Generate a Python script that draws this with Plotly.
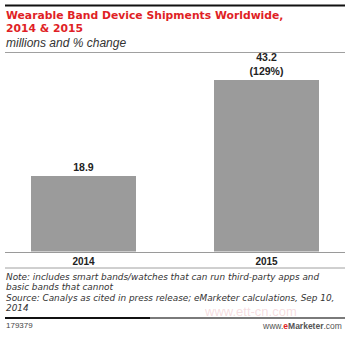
import plotly.graph_objects as go

W, H = 351, 338

years = ["2014", "2015"]
shipments = [18.9, 43.2]
pct_change = [None, 129]

title_lines = ["Wearable Band Device Shipments Worldwide,", "2014 & 2015"]
subtitle = "millions and % change"
note_lines = [
    "Note: includes smart bands/watches that can run third-party apps and",
    "basic bands that cannot",
    "Source: Canalys as cited in press release; eMarketer calculations, Sep 10,",
    "2014",
]
chart_id = "179379"

labels = []
for v, p in zip(shipments, pct_change):
    labels.append(f"{v}" if p is None else f"{v}<br>({p}%)")


def px(x):
    return x / W


def py(y):
    return 1 - y / H


fig = go.Figure()
fig.add_trace(go.Bar(
    x=years, y=shipments, width=0.574,
    marker=dict(color="#9b9b9b", line=dict(width=0)),
    text=labels, textposition="outside", cliponaxis=False,
    textfont=dict(family="Liberation Sans", size=10.5, color="#222", weight="bold"),
    hoverinfo="skip",
))

fig.update_layout(
    width=W, height=H, autosize=False,
    margin=dict(l=0, r=0, t=0, b=0),
    paper_bgcolor="white", plot_bgcolor="white",
    showlegend=False, bargap=0,
    font=dict(family="Liberation Sans"),
    xaxis=dict(
        domain=[px(5), px(345)], range=[-0.429, 1.429],
        showline=True, linecolor="#9a9a9a", linewidth=1,
        showgrid=False, zeroline=False, ticks="",
        tickfont=dict(family="Liberation Sans", size=10, color="#222", weight="bold"),
        fixedrange=True,
    ),
    yaxis=dict(
        domain=[py(251.5), py(60)], range=[0, 48.24],
        visible=False, showgrid=False, zeroline=False, fixedrange=True,
    ),
)

shapes = [
    dict(type="line", xref="paper", yref="paper", x0=px(5), x1=px(345), y0=py(5.5), y1=py(5.5),
         line=dict(color="#111", width=2)),
    dict(type="line", xref="paper", yref="paper", x0=px(5), x1=px(345), y0=py(52.5), y1=py(52.5),
         line=dict(color="#a0a0a0", width=1)),
    dict(type="line", xref="paper", yref="paper", x0=px(5), x1=px(345), y0=py(268), y1=py(268),
         line=dict(color="#a0a0a0", width=1)),
    dict(type="line", xref="paper", yref="paper", x0=px(5), x1=px(150), y0=py(318), y1=py(318),
         line=dict(color="#111", width=2)),
    dict(type="line", xref="paper", yref="paper", x0=px(150), x1=px(345), y0=py(318), y1=py(318),
         line=dict(color="#7a7a7a", width=2)),
]
fig.update_layout(shapes=shapes)

ann = []
for i, t in enumerate(title_lines):
    ann.append(dict(text=t, x=px(4), y=py(15.7 + 13.3 * i), xref="paper", yref="paper",
                    xanchor="left", yanchor="middle", showarrow=False,
                    font=dict(family="DejaVu Sans", size=10.8, color="#e01f26", weight="bold")))
ann.append(dict(text=f"<i>{subtitle}</i>", x=px(4), y=py(42.7), xref="paper", yref="paper",
                xanchor="left", yanchor="middle", showarrow=False,
                font=dict(family="Liberation Sans", size=12, color="#333")))
for i, t in enumerate(note_lines):
    ann.append(dict(text=f"<i>{t}</i>", x=px(4), y=py(277 + 10.4 * i), xref="paper", yref="paper",
                    xanchor="left", yanchor="middle", showarrow=False,
                    font=dict(family="DejaVu Sans", size=8.9, color="#333")))
ann.append(dict(text=chart_id, x=px(4), y=py(325.5), xref="paper", yref="paper",
                xanchor="left", yanchor="middle", showarrow=False,
                font=dict(family="Liberation Sans", size=8, color="#444")))
ann.append(dict(text="www.<span style='color:#e01f26'><b>e</b></span><b>Marketer</b>.com",
                x=px(344), y=py(325.5), xref="paper", yref="paper",
                xanchor="right", yanchor="middle", showarrow=False,
                font=dict(family="Liberation Sans", size=8.5, color="#555")))
ann.append(dict(text="www.ett-cn.com", x=px(250), y=py(311.5), xref="paper", yref="paper",
                xanchor="center", yanchor="middle", showarrow=False,
                font=dict(family="Liberation Sans", size=13, color="rgba(225,140,150,0.30)")))
fig.update_layout(annotations=ann)

fig.write_html("out.html", config={"displayModeBar": False})
